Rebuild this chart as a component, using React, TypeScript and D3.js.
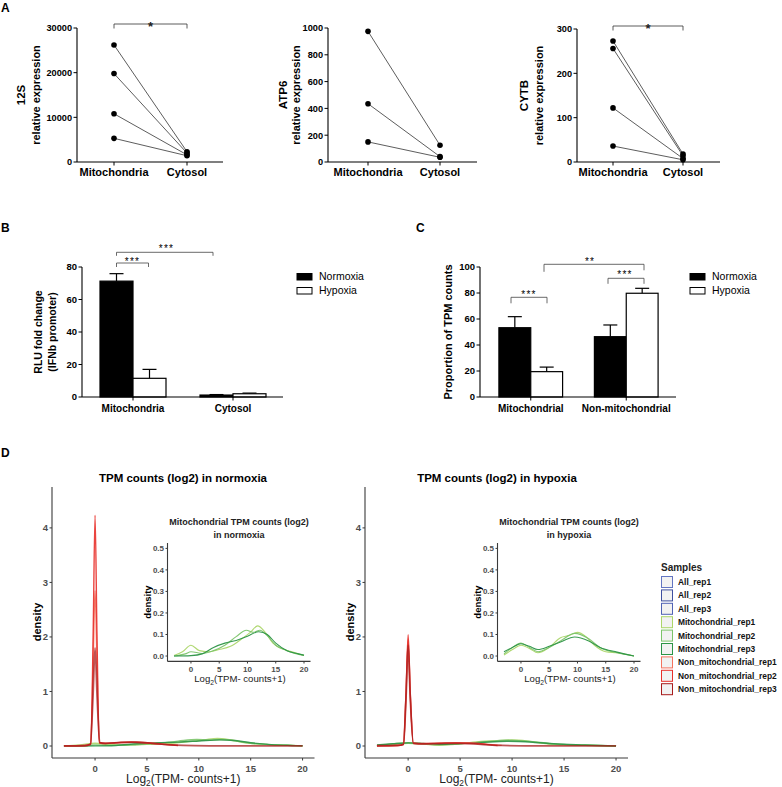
import React from "react";
import * as d3 from "d3";

// ---------------- Panel A data ----------------
const aCategories = ["Mitochondria", "Cytosol"];
const mito12S = [26200, 19800, 10800, 5300];
const cyto12S = [2300, 2000, 1600, 1400];
const ticks12S = [0, 10000, 20000, 30000];
const mitoATP6 = [975, 435, 150];
const cytoATP6 = [125, 40, 35];
const ticksATP6 = [0, 200, 400, 600, 800, 1000];
const mitoCYTB = [273, 256, 122, 36];
const cytoCYTB = [18, 14, 8, 5];
const ticksCYTB = [0, 100, 200, 300];

// ---------------- Panel B data ----------------
const bGroups = ["Mitochondria", "Cytosol"];
const bNormoxia = [71.3, 1.2];
const bNormoxiaErr = [4.6, 0.3];
const bHypoxia = [11.5, 2.0];
const bHypoxiaErr = [5.5, 0.4];
const bTicks = [0, 20, 40, 60, 80];

// ---------------- Panel C data ----------------
const cGroups = ["Mitochondrial", "Non-mitochondrial"];
const cNormoxia = [53.3, 46.4];
const cNormoxiaErr = [8.5, 9.0];
const cHypoxia = [19.5, 79.8];
const cHypoxiaErr = [3.5, 3.8];
const cTicks = [0, 20, 40, 60, 80, 100];

// ---------------- Panel D data ----------------
const sampleNames = [
  "All_rep1", "All_rep2", "All_rep3",
  "Mitochondrial_rep1", "Mitochondrial_rep2", "Mitochondrial_rep3",
  "Non_mitochondrial_rep1", "Non_mitochondrial_rep2", "Non_mitochondrial_rep3",
];
const sampleColors = [
  "#6375c2", "#3f509f", "#5062b4",
  "#acd66a", "#7cc46a", "#2c9446",
  "#f4735f", "#e8302a", "#a81c1c",
];
const mainXTicks = [0, 5, 10, 15, 20];
const mainYTicks = [0, 1, 2, 3, 4];
const insetYTicks = [0, 0.1, 0.2, 0.3, 0.4, 0.5];

// mitochondrial densities, normoxia
const mitoN1: [number, number][] = [[-3, 0.002], [-1.5, 0.02], [0, 0.05], [1.5, 0.025], [3, 0.02], [5, 0.03], [7, 0.045], [9, 0.08], [10.5, 0.11], [11.8, 0.14], [13, 0.115], [14.5, 0.06], [16.5, 0.03], [18.5, 0.015], [20, 0.002]];
const mitoN2: [number, number][] = [[-3, 0.0], [-1, 0.01], [0, 0.02], [2, 0.012], [4, 0.025], [6, 0.05], [8, 0.09], [9.8, 0.12], [11, 0.11], [12.2, 0.12], [13.5, 0.095], [15, 0.05], [17, 0.025], [20, 0.002]];
const mitoN3: [number, number][] = [[-3, 0.0], [0, 0.002], [2, 0.01], [4, 0.04], [6, 0.06], [8, 0.072], [10, 0.092], [12, 0.113], [13.5, 0.1], [15, 0.06], [17, 0.025], [19, 0.01], [20, 0.004]];
// mitochondrial densities, hypoxia
const mitoH1: [number, number][] = [[-3, 0.005], [-1.5, 0.03], [0, 0.05], [1.5, 0.035], [3, 0.015], [5, 0.04], [7, 0.085], [8.5, 0.095], [10, 0.11], [11.5, 0.09], [13, 0.05], [15, 0.02], [17, 0.015], [20, 0.0]];
const mitoH2: [number, number][] = [[-3, 0.01], [-1.5, 0.04], [0, 0.06], [1.5, 0.04], [3, 0.02], [5, 0.04], [7, 0.07], [9.5, 0.105], [12, 0.08], [14, 0.04], [17, 0.015], [20, 0.0]];
const mitoH3: [number, number][] = [[-3, 0.02], [-1.5, 0.04], [0, 0.057], [1.5, 0.045], [3, 0.03], [5, 0.045], [7, 0.065], [9.5, 0.088], [12, 0.07], [14, 0.04], [17, 0.018], [20, 0.0]];
// non-mitochondrial densities, normoxia
const nonN1: [number, number][] = [[-3, 0.003], [-1.2, 0.008], [-0.45, 0.03], [-0.2, 1.4], [0, 2.85], [0.2, 1.4], [0.45, 0.06], [1, 0.05], [2, 0.06], [3.5, 0.075], [5, 0.06], [6.5, 0.035], [8, 0.012]];
const nonN2: [number, number][] = [[-3, 0.002], [-1, 0.006], [-0.4, 0.04], [-0.18, 2.1], [0, 4.23], [0.18, 2.1], [0.4, 0.06], [1, 0.045], [2, 0.06], [3.5, 0.07], [5, 0.055], [6.5, 0.03], [8, 0.01]];
const nonN3: [number, number][] = [[-3, 0.004], [-1, 0.008], [-0.45, 0.03], [-0.2, 0.9], [0, 1.8], [0.2, 0.9], [0.45, 0.06], [1, 0.05], [2.5, 0.065], [4, 0.07], [5.5, 0.05], [7, 0.025], [8.5, 0.01], [11, 0.004], [15, 0.002], [20, 0.001]];
// non-mitochondrial densities, hypoxia
const nonH1: [number, number][] = [[-3, 0.004], [-1, 0.01], [-0.45, 0.03], [-0.2, 0.95], [0, 1.95], [0.2, 0.95], [0.5, 0.05], [1.5, 0.04], [3, 0.05], [4.5, 0.06], [6, 0.055], [7.5, 0.035], [9, 0.012]];
const nonH2: [number, number][] = [[-3, 0.003], [-1, 0.008], [-0.45, 0.03], [-0.2, 1.0], [0, 2.04], [0.2, 1.0], [0.5, 0.05], [1.5, 0.045], [3, 0.05], [4.5, 0.055], [6, 0.05], [7.5, 0.03], [8.6, 0.01]];
const nonH3: [number, number][] = [[-3, 0.005], [-1, 0.01], [-0.45, 0.03], [-0.2, 0.9], [0, 1.85], [0.2, 0.9], [0.5, 0.05], [1.5, 0.04], [3, 0.045], [5, 0.05], [7, 0.03], [9, 0.01], [12, 0.004], [16, 0.002], [20, 0.001]];

const FONT = "'Liberation Sans', Arial, Helvetica, sans-serif";

type GeneProps = {
  name: string; mito: number[]; cyto: number[]; ticks: number[]; yMax: number;
  axisX: number; mitoX: number; cytoX: number; endX: number; top: number;
  nameX: number; subX: number; sig: boolean; sigY: number;
};

function GenePanel(p: GeneProps) {
  const bottom = 162;
  const y = d3.scaleLinear().domain([0, p.yMax]).range([bottom, p.top]);
  const x = d3.scalePoint<string>().domain(aCategories).range([p.mitoX, p.cytoX]);
  const cy = (bottom + p.top) / 2;
  const mx = x("Mitochondria")!;
  const cx = x("Cytosol")!;
  return (
    <g>
      <line x1={p.axisX} x2={p.axisX} y1={y(0)} y2={y(p.yMax)} stroke="#000" strokeWidth={1.1} />
      {p.ticks.map((t) => (
        <g key={t}>
          <line x1={p.axisX - 3.5} x2={p.axisX} y1={y(t)} y2={y(t)} stroke="#000" strokeWidth={1} />
          <text x={p.axisX - 5} y={y(t) + 3.3} textAnchor="end" fontSize={9.2} fontWeight="bold">{t}</text>
        </g>
      ))}
      <line x1={p.axisX} x2={p.endX} y1={y(0)} y2={y(0)} stroke="#000" strokeWidth={1.1} />
      {aCategories.map((c) => (
        <g key={c}>
          <line x1={x(c)} x2={x(c)} y1={y(0)} y2={y(0) + 3.5} stroke="#000" />
          <text x={x(c)} y={176} textAnchor="middle" fontSize={11} fontWeight="bold">{c}</text>
        </g>
      ))}
      {p.mito.map((v, i) => (
        <line key={"l" + i} x1={mx} y1={y(v)} x2={cx} y2={y(p.cyto[i])} stroke="#333" strokeWidth={0.8} />
      ))}
      {p.mito.map((v, i) => <circle key={"m" + i} cx={mx} cy={y(v)} r={2.8} fill="#000" />)}
      {p.cyto.map((v, i) => <circle key={"c" + i} cx={cx} cy={y(v)} r={2.8} fill="#000" />)}
      <text transform={`translate(${p.nameX},${cy}) rotate(-90)`} textAnchor="middle" fontSize={11.5} fontWeight="bold">{p.name}</text>
      <text transform={`translate(${p.subX},${cy}) rotate(-90)`} textAnchor="middle" fontSize={11} fontWeight="bold">relative expression</text>
      {p.sig && (
        <g>
          <path d={`M${mx},${p.sigY + 4.5}V${p.sigY}H${cx}V${p.sigY + 4.5}`} fill="none" stroke="#333" strokeWidth={0.8} />
          <text x={(mx + cx) / 2} y={p.sigY + 6.5} textAnchor="middle" fontSize={13} fontWeight="bold" fill="#222">*</text>
        </g>
      )}
    </g>
  );
}

function Bracket({ x1, x2, y, d1, d2, label, lx, ly }: { x1: number; x2: number; y: number; d1: number; d2: number; label: string; lx: number; ly: number }) {
  return (
    <g>
      <path d={`M${x1},${y + d1}V${y}H${x2}V${y + d2}`} fill="none" stroke="#444" strokeWidth={0.8} />
      <text x={lx} y={ly} textAnchor="middle" fontSize={10} letterSpacing={1.2}>{label}</text>
    </g>
  );
}

function BarPanel({ groups, norm, normErr, hyp, hypErr, ticks, yMax, axisX, endX, pi, po, legendX, yLabel }: any) {
  const y = d3.scaleLinear().domain([0, yMax]).range([397, 267]);
  const x = d3.scaleBand<string>().domain(groups).range([axisX + 1, endX]).paddingInner(pi).paddingOuter(po);
  const bw = x.bandwidth() / 2;
  const errBar = (cx: number, v: number, e: number) => (
    <g>
      <line x1={cx} x2={cx} y1={y(v)} y2={y(v + e)} stroke="#000" strokeWidth={1.2} />
      <line x1={cx - 7} x2={cx + 7} y1={y(v + e)} y2={y(v + e)} stroke="#000" strokeWidth={1.2} />
    </g>
  );
  return (
    <g>
      {groups.map((g: string, i: number) => {
        const x0 = x(g)!;
        return (
          <g key={g}>
            {errBar(x0 + bw / 2, norm[i], normErr[i])}
            {errBar(x0 + bw * 1.5, hyp[i], hypErr[i])}
            <rect x={x0} y={y(norm[i])} width={bw} height={y(0) - y(norm[i])} fill="#000" stroke="#000" strokeWidth={1.2} />
            <rect x={x0 + bw} y={y(hyp[i])} width={bw} height={y(0) - y(hyp[i])} fill="#fff" stroke="#000" strokeWidth={1.2} />
            <line x1={x0 + bw} x2={x0 + bw} y1={y(0)} y2={y(0) + 3.5} stroke="#000" />
            <text x={x0 + bw} y={412} textAnchor="middle" fontSize={10} fontWeight="bold">{g}</text>
          </g>
        );
      })}
      <line x1={axisX} x2={axisX} y1={y(0)} y2={y(yMax)} stroke="#000" strokeWidth={1.1} />
      {ticks.map((t: number) => (
        <g key={t}>
          <line x1={axisX - 3.5} x2={axisX} y1={y(t)} y2={y(t)} stroke="#000" />
          <text x={axisX - 5} y={y(t) + 3.4} textAnchor="end" fontSize={9.5} fontWeight="bold">{t}</text>
        </g>
      ))}
      <line x1={axisX} x2={endX} y1={y(0)} y2={y(0)} stroke="#000" strokeWidth={1.1} />
      {yLabel}
      <rect x={legendX} y={273.5} width={15} height={6.5} fill="#000" stroke="#000" />
      <text x={legendX + 22} y={280.3} fontSize={10.5}>Normoxia</text>
      <rect x={legendX} y={287.5} width={15} height={6.5} fill="#fff" stroke="#000" />
      <text x={legendX + 22} y={294.3} fontSize={10.5}>Hypoxia</text>
    </g>
  );
}

function LogLabel({ x, y, size }: { x: number; y: number; size: number }) {
  return (
    <text x={x} y={y} textAnchor="middle" fontSize={size} fill="#222">
      Log<tspan fontSize={size * 0.7} dy={size * 0.28}>2</tspan>
      <tspan dy={-size * 0.28}>(TPM- counts+1)</tspan>
    </text>
  );
}

function DensityPanel({ left, right, title, titleX, non, mito }: any) {
  const xs = d3.scaleLinear().domain([-4.15, 21.15]).range([left, right]);
  const ys = d3.scaleLinear().domain([-0.22, 4.75]).range([758, 487]);
  const line = d3.line<[number, number]>().x((d) => xs(d[0])).y((d) => ys(d[1])).curve(d3.curveMonotoneX);
  const axisCol = "#3a3a3a";
  return (
    <g>
      <text x={titleX} y={481.5} textAnchor="middle" fontSize={11.5} fontWeight="bold">{title}</text>
      {mito.map((s: [number, number][], i: number) => (
        <path key={"g" + i} d={line(s)!} fill="none" stroke={sampleColors[3 + i]} strokeWidth={1.4} strokeOpacity={0.9} />
      ))}
      {non.map((s: [number, number][], i: number) => (
        <path key={"r" + i} d={line(s)!} fill="none" stroke={sampleColors[6 + i]} strokeWidth={i === 2 ? 1.8 : 1.4} strokeOpacity={i === 2 ? 0.75 : 0.9} />
      ))}
      <line x1={left} x2={left} y1={758} y2={487} stroke={axisCol} strokeWidth={1.1} />
      <line x1={left} x2={right} y1={758} y2={758} stroke={axisCol} strokeWidth={1.1} />
      {mainYTicks.map((t) => (
        <g key={t}>
          <line x1={left - 2.5} x2={left} y1={ys(t)} y2={ys(t)} stroke={axisCol} />
          <text x={left - 4} y={ys(t) + 3.4} textAnchor="end" fontSize={9.5} fontWeight="bold" fill="#4d4d4d">{t}</text>
        </g>
      ))}
      {mainXTicks.map((t) => (
        <g key={t}>
          <line x1={xs(t)} x2={xs(t)} y1={758} y2={760.5} stroke={axisCol} />
          <text x={xs(t)} y={771.5} textAnchor="middle" fontSize={9.5} fontWeight="bold" fill="#4d4d4d">{t}</text>
        </g>
      ))}
      <text transform={`translate(${left - 11},622) rotate(-90)`} textAnchor="middle" fontSize={11} fontWeight="bold">density</text>
      <LogLabel x={(left + right) / 2} y={783} size={12} />
    </g>
  );
}

function InsetPanel({ left, right, lines, series }: any) {
  const xs = d3.scaleLinear().domain([-4.15, 21.15]).range([left, right]);
  const ys = d3.scaleLinear().domain([-0.025, 0.525]).range([661.4, 543]);
  const line = d3.line<[number, number]>().x((d) => xs(d[0])).y((d) => ys(d[1])).curve(d3.curveMonotoneX);
  const axisCol = "#3a3a3a";
  const cx = xs(8.5);
  return (
    <g>
      <text x={cx} y={524.5} textAnchor="middle" fontSize={9} fontWeight="bold" fill="#222">{lines[0]}</text>
      <text x={cx} y={537.5} textAnchor="middle" fontSize={9} fontWeight="bold" fill="#222">{lines[1]}</text>
      {series.map((s: [number, number][], i: number) => (
        <path key={i} d={line(s)!} fill="none" stroke={sampleColors[3 + i]} strokeWidth={1.1} strokeOpacity={0.95} />
      ))}
      <line x1={left} x2={left} y1={661.4} y2={543} stroke={axisCol} strokeWidth={1.1} />
      <line x1={left} x2={right} y1={661.4} y2={661.4} stroke={axisCol} strokeWidth={1.1} />
      {insetYTicks.map((t) => (
        <g key={t}>
          <line x1={left - 2} x2={left} y1={ys(t)} y2={ys(t)} stroke={axisCol} />
          <text x={left - 3.5} y={ys(t) + 3} textAnchor="end" fontSize={8} fontWeight="bold" fill="#4d4d4d">{t.toFixed(1)}</text>
        </g>
      ))}
      {mainXTicks.map((t) => (
        <g key={t}>
          <line x1={xs(t)} x2={xs(t)} y1={661.4} y2={663.5} stroke={axisCol} />
          <text x={xs(t)} y={671.5} textAnchor="middle" fontSize={8} fontWeight="bold" fill="#4d4d4d">{t}</text>
        </g>
      ))}
      <text transform={`translate(${left - 17},602) rotate(-90)`} textAnchor="middle" fontSize={9.5} fontWeight="bold">density</text>
      <LogLabel x={(left + right) / 2 + 1} y={682} size={9.6} />
    </g>
  );
}

export default function App() {
  return (
    <svg width={782} height={787} style={{ position: "absolute", left: 0, top: 0, background: "#fff" }} fontFamily={FONT}>
      <rect x={0} y={0} width={782} height={787} fill="#fff" />
      {/* Panel labels */}
      <text x={1} y={12} fontSize={12} fontWeight="bold">A</text>
      <text x={1} y={232} fontSize={12} fontWeight="bold">B</text>
      <text x={416} y={232} fontSize={12} fontWeight="bold">C</text>
      <text x={1} y={457} fontSize={12} fontWeight="bold">D</text>

      {/* Panel A */}
      <GenePanel name="12S" mito={mito12S} cyto={cyto12S} ticks={ticks12S} yMax={30000}
        axisX={77} mitoX={114} cytoX={187} endX={223} top={28} nameX={25} subX={40} sig={true} sigY={24} />
      <GenePanel name="ATP6" mito={mitoATP6} cyto={cytoATP6} ticks={ticksATP6} yMax={1000}
        axisX={328} mitoX={368} cytoX={440} endX={477} top={28} nameX={287} subX={300} sig={false} sigY={0} />
      <GenePanel name="CYTB" mito={mitoCYTB} cyto={cytoCYTB} ticks={ticksCYTB} yMax={300}
        axisX={577} mitoX={613} cytoX={683} endX={720} top={29} nameX={528} subX={543} sig={true} sigY={26} />

      {/* Panel B */}
      <BarPanel groups={bGroups} norm={bNormoxia} normErr={bNormoxiaErr} hyp={bHypoxia} hypErr={bHypoxiaErr}
        ticks={bTicks} yMax={80} axisX={82} endX={283} pi={0.34} po={0.17} legendX={297}
        yLabel={
          <g>
            <text transform="translate(42,332) rotate(-90)" textAnchor="middle" fontSize={10.5} fontWeight="bold">RLU fold change</text>
            <text transform="translate(55.5,332) rotate(-90)" textAnchor="middle" fontSize={10.5} fontWeight="bold">(IFNb promoter)</text>
          </g>
        } />
      <Bracket x1={116.5} x2={148.5} y={263} d1={4} d2={4} label="***" lx={132.5} ly={264.5} />
      <Bracket x1={116.5} x2={213} y={252.3} d1={3.5} d2={3.5} label="***" lx={166.5} ly={252} />

      {/* Panel C */}
      <BarPanel groups={cGroups} norm={cNormoxia} normErr={cNormoxiaErr} hyp={cHypoxia} hypErr={cHypoxiaErr}
        ticks={cTicks} yMax={100} axisX={480} endX={676} pi={0.333} po={0.1875} legendX={690}
        yLabel={
          <text transform="translate(452,332) rotate(-90)" textAnchor="middle" fontSize={11} fontWeight="bold">Proportion of TPM counts</text>
        } />
      <Bracket x1={511} x2={547} y={297.3} d1={6} d2={6} label="***" lx={529} ly={298} />
      <Bracket x1={544} x2={644} y={264.3} d1={7.5} d2={6} label="**" lx={590} ly={264.5} />
      <Bracket x1={608} x2={644} y={278.3} d1={5.5} d2={5.5} label="***" lx={625} ly={278} />

      {/* Panel D */}
      <DensityPanel left={52} right={314.5} title="TPM counts (log2) in normoxia" titleX={183}
        non={[nonN1, nonN2, nonN3]} mito={[mitoN1, mitoN2, mitoN3]} />
      <DensityPanel left={365} right={628} title="TPM counts (log2) in hypoxia" titleX={497}
        non={[nonH1, nonH2, nonH3]} mito={[mitoH1, mitoH2, mitoH3]} />
      <InsetPanel left={167.5} right={310.5} lines={["Mitochondrial TPM counts (log2)", "in normoxia"]}
        series={[mitoN1, mitoN2, mitoN3]} />
      <InsetPanel left={497.5} right={640.5} lines={["Mitochondrial TPM counts (log2)", "in hypoxia"]}
        series={[mitoH1, mitoH2, mitoH3]} />

      {/* Legend */}
      <text x={661} y={570.5} fontSize={10} fontWeight="bold" fill="#222">Samples</text>
      {sampleNames.map((s, i) => {
        const cy = 582 + i * 13.4;
        return (
          <g key={s}>
            <rect x={661.5} y={cy - 5.5} width={11} height={11} fill="#f2f2f2" stroke={sampleColors[i]} strokeWidth={1} />
            <text x={678} y={cy + 3} fontSize={8.4} fontWeight="bold" fill="#111">{s}</text>
          </g>
        );
      })}
    </svg>
  );
}
